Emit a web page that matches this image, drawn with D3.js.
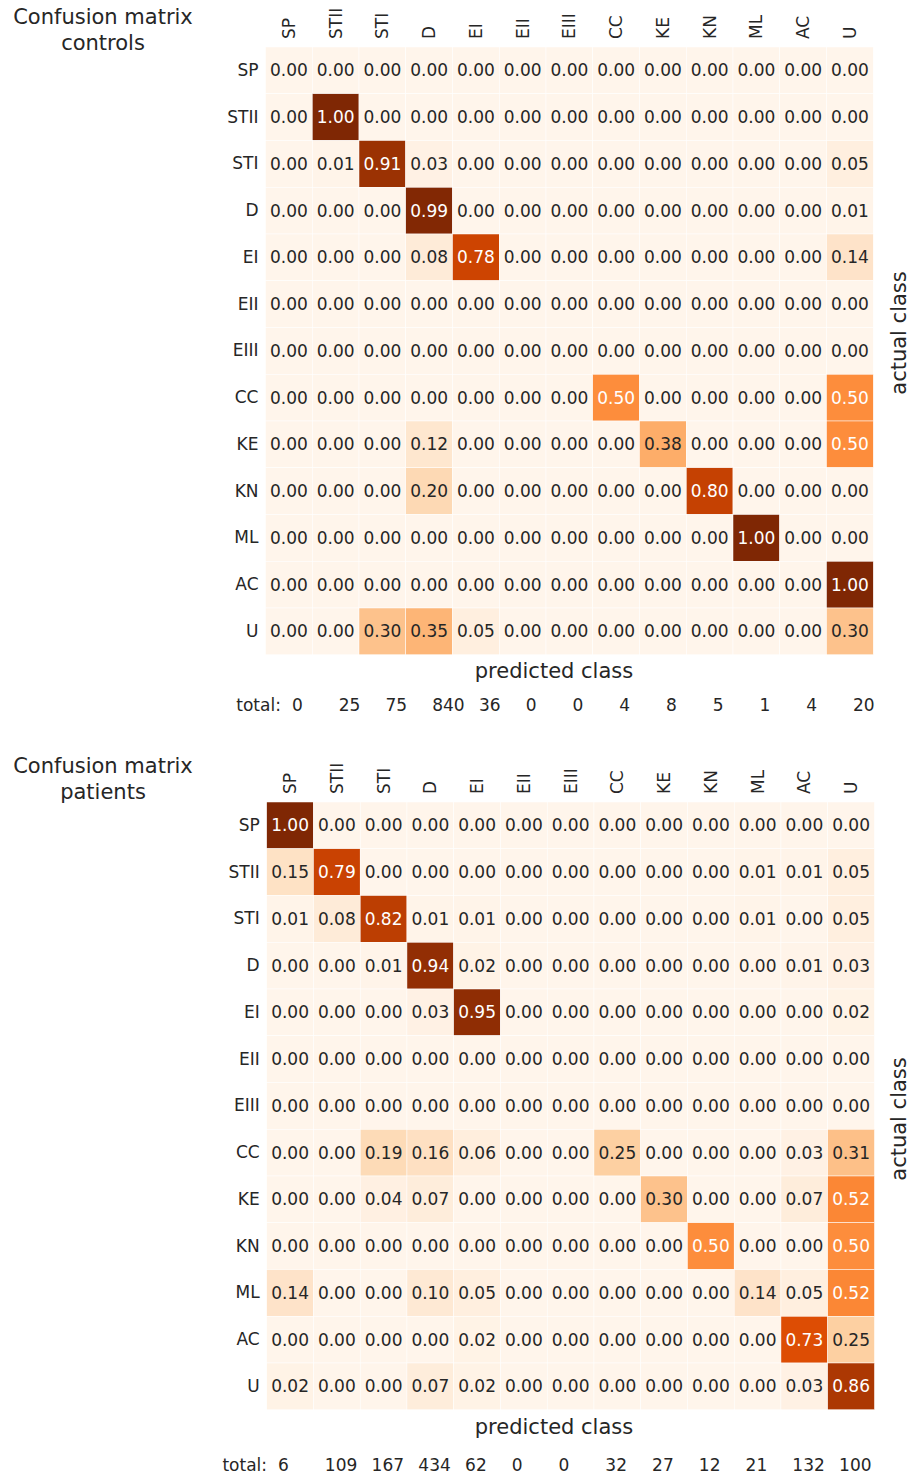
<!DOCTYPE html>
<meta charset="utf-8">
<style>
body { margin: 0; background: #fff; }
svg text { font-family: "DejaVu Sans", sans-serif; fill: #262626; }
.tick text { font-size: 17px; }
</style>
<svg width="918" height="1477"></svg>
<script src="https://d3js.org/d3.v7.min.js"></script>
<script>
// class names, same order for rows (actual) and columns (predicted)
var classes = ["SP", "STII", "STI", "D", "EI", "EII", "EIII", "CC", "KE", "KN", "ML", "AC", "U"];

// controls, row = actual class
var controlsMatrix = [
  [0, 0, 0, 0, 0, 0, 0, 0, 0, 0, 0, 0, 0],
  [0, 1.00, 0, 0, 0, 0, 0, 0, 0, 0, 0, 0, 0],
  [0, 0.01, 0.91, 0.03, 0, 0, 0, 0, 0, 0, 0, 0, 0.05],
  [0, 0, 0, 0.99, 0, 0, 0, 0, 0, 0, 0, 0, 0.01],
  [0, 0, 0, 0.08, 0.78, 0, 0, 0, 0, 0, 0, 0, 0.14],
  [0, 0, 0, 0, 0, 0, 0, 0, 0, 0, 0, 0, 0],
  [0, 0, 0, 0, 0, 0, 0, 0, 0, 0, 0, 0, 0],
  [0, 0, 0, 0, 0, 0, 0, 0.50, 0, 0, 0, 0, 0.50],
  [0, 0, 0, 0.12, 0, 0, 0, 0, 0.38, 0, 0, 0, 0.50],
  [0, 0, 0, 0.20, 0, 0, 0, 0, 0, 0.80, 0, 0, 0],
  [0, 0, 0, 0, 0, 0, 0, 0, 0, 0, 1.00, 0, 0],
  [0, 0, 0, 0, 0, 0, 0, 0, 0, 0, 0, 0, 1.00],
  [0, 0, 0.30, 0.35, 0.05, 0, 0, 0, 0, 0, 0, 0, 0.30]
];
var controlsTotals = [0, 25, 75, 840, 36, 0, 0, 4, 8, 5, 1, 4, 20];

// patients
var patientsMatrix = [
  [1.00, 0, 0, 0, 0, 0, 0, 0, 0, 0, 0, 0, 0],
  [0.15, 0.79, 0, 0, 0, 0, 0, 0, 0, 0, 0.01, 0.01, 0.05],
  [0.01, 0.08, 0.82, 0.01, 0.01, 0, 0, 0, 0, 0, 0.01, 0, 0.05],
  [0, 0, 0.01, 0.94, 0.02, 0, 0, 0, 0, 0, 0, 0.01, 0.03],
  [0, 0, 0, 0.03, 0.95, 0, 0, 0, 0, 0, 0, 0, 0.02],
  [0, 0, 0, 0, 0, 0, 0, 0, 0, 0, 0, 0, 0],
  [0, 0, 0, 0, 0, 0, 0, 0, 0, 0, 0, 0, 0],
  [0, 0, 0.19, 0.16, 0.06, 0, 0, 0.25, 0, 0, 0, 0.03, 0.31],
  [0, 0, 0.04, 0.07, 0, 0, 0, 0, 0.30, 0, 0, 0.07, 0.52],
  [0, 0, 0, 0, 0, 0, 0, 0, 0, 0.50, 0, 0, 0.50],
  [0.14, 0, 0, 0.10, 0.05, 0, 0, 0, 0, 0, 0.14, 0.05, 0.52],
  [0, 0, 0, 0, 0.02, 0, 0, 0, 0, 0, 0, 0.73, 0.25],
  [0.02, 0, 0, 0.07, 0.02, 0, 0, 0, 0, 0, 0, 0.03, 0.86]
];
var patientsTotals = [6, 109, 167, 434, 62, 0, 0, 32, 27, 12, 21, 132, 100];

var svg = d3.select("svg");
var cell = 46.75;

// piecewise linear through the 9 brewer colours (like matplotlib's Oranges)
var color = d3.scaleLinear()
    .domain(d3.range(9).map(function(i) { return i / 8; }))
    .range(d3.schemeOranges[9])
    .clamp(true);

// white text on dark cells, same rule as seaborn
function lum(c) {
  c = d3.rgb(c);
  var f = function(v) { v /= 255; return v <= 0.03928 ? v / 12.92 : Math.pow((v + 0.055) / 1.055, 2.4); };
  return 0.2126 * f(c.r) + 0.7152 * f(c.g) + 0.0722 * f(c.b);
}

function drawPanel(cfg, matrix, totals) {
  var x = d3.scaleBand().domain(classes).range([cfg.x0, cfg.x0 + cell * classes.length]);
  var y = d3.scaleBand().domain(classes).range([cfg.y0, cfg.y0 + cell * classes.length]);
  var g = svg.append("g");

  var cells = [];
  matrix.forEach(function(row, i) {
    row.forEach(function(v, j) { cells.push({ r: classes[i], c: classes[j], v: v }); });
  });

  g.selectAll("rect")
    .data(cells)
    .enter().append("rect")
      .attr("x", function(d) { return x(d.c); })
      .attr("y", function(d) { return y(d.r); })
      .attr("width", x.bandwidth())
      .attr("height", y.bandwidth())
      .attr("fill", function(d) { return color(d.v); })
      .attr("stroke", "#fff")
      .attr("stroke-width", 0.5);

  g.selectAll("text.val")
    .data(cells)
    .enter().append("text")
      .attr("class", "val")
      .attr("x", function(d) { return x(d.c) + x.bandwidth() / 2; })
      .attr("y", function(d) { return y(d.r) + y.bandwidth() / 2; })
      .attr("dy", "0.35em")
      .attr("text-anchor", "middle")
      .style("font-size", "17px")
      .style("fill", function(d) { return lum(color(d.v)) > 0.408 ? "#262626" : "#fff"; })
      .text(function(d) { return d.v.toFixed(2); });

  // row labels
  var ay = g.append("g")
      .attr("transform", "translate(" + cfg.x0 + ",0)")
      .call(d3.axisLeft(y).tickSize(0).tickPadding(7));
  ay.select(".domain").remove();
  ay.selectAll("text").style("fill", "#262626").attr("font-family", null);

  // column labels, rotated
  var ax = g.append("g")
      .attr("transform", "translate(0," + cfg.y0 + ")")
      .call(d3.axisTop(x).tickSize(0));
  ax.select(".domain").remove();
  ax.selectAll("text")
      .attr("transform", "rotate(-90)")
      .attr("x", 8)
      .attr("y", 0)
      .attr("dy", "0.35em")
      .attr("text-anchor", "start")
      .attr("font-family", null)
      .style("fill", "#262626");

  var y1 = cfg.y0 + cell * classes.length;

  // title
  g.append("text")
      .attr("x", 103)
      .attr("y", cfg.titleY)
      .attr("text-anchor", "middle")
      .style("font-size", "21px")
      .selectAll("tspan")
      .data(["Confusion matrix", cfg.name])
      .enter().append("tspan")
        .attr("x", 103)
        .attr("dy", function(d, i) { return i ? 26 : 0; })
        .text(function(d) { return d; });

  g.append("text")
      .attr("transform", "translate(906," + cfg.actualY + ") rotate(-90)")
      .attr("text-anchor", "middle")
      .style("font-size", "21px")
      .text("actual class");

  g.append("text")
      .attr("x", 554)
      .attr("y", y1 + cfg.predDy)
      .attr("text-anchor", "middle")
      .style("font-size", "21px")
      .text("predicted class");

  // totals row
  g.append("text")
      .attr("x", x(classes[0]) + x.bandwidth() / 2 + cfg.totOff - 11)
      .attr("y", y1 + cfg.totDy)
      .attr("text-anchor", "end")
      .style("font-size", "17px")
      .text("total:");

  g.selectAll("text.tot")
    .data(totals)
    .enter().append("text")
      .attr("class", "tot")
      .attr("x", function(d, i) { return x(classes[i]) + x.bandwidth() / 2 + cfg.totOff; })
      .attr("y", y1 + cfg.totDy)
      .style("font-size", "17px")
      .text(function(d) { return d; });
}

drawPanel({ name: "controls", x0: 265.5, y0: 47, titleY: 24, actualY: 333, predDy: 23, totDy: 56, totOff: 3 },
          controlsMatrix, controlsTotals);
drawPanel({ name: "patients", x0: 266.7, y0: 802, titleY: 773, actualY: 1119, predDy: 24, totDy: 61, totOff: -12 },
          patientsMatrix, patientsTotals);
</script>
